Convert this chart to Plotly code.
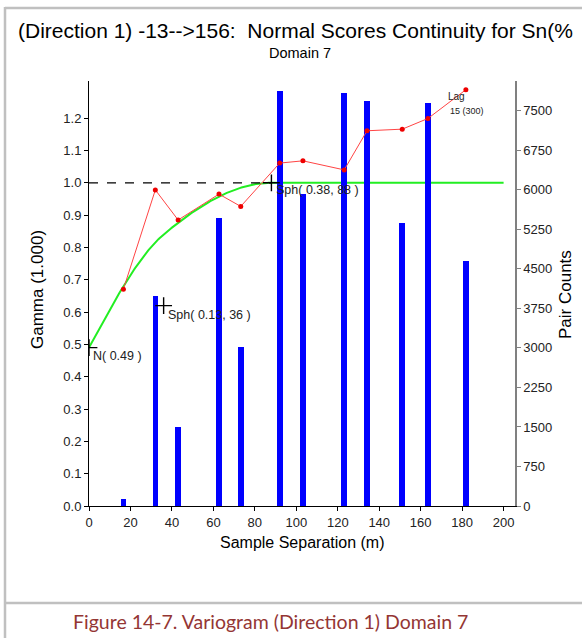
import numpy as np
import plotly.graph_objects as go

# ---------------- data ----------------
lag_dist = [16.6, 32.0, 43.0, 62.7, 73.2, 92.0, 103.2, 123.1, 134.1, 151.1, 163.5, 181.8]
gamma_exp = [0.671, 0.978, 0.885, 0.965, 0.927, 1.061, 1.068, 1.040, 1.161, 1.166, 1.199, 1.288]
pair_counts = [125, 3980, 1490, 5470, 3020, 7880, 5920, 7830, 7680, 5370, 7640, 4650]

nugget = 0.49
sph_sills = [0.13, 0.38]
sph_ranges = [36, 88]

x_ticks = list(range(0, 201, 20))
gamma_ticks = [round(0.1 * i, 1) for i in range(13)]
count_ticks = list(range(0, 7501, 750))

title_text = "(Direction 1) -13-->156:  Normal Scores Continuity for Sn(%"
subtitle_text = "Domain 7"
caption_text = "Figure 14-7. Variogram (Direction 1) Domain 7"
lag_label = ["Lag", "15 (300)"]

# ---------------- model curve (from the fitted model parameters) ----------------
def spherical_model(h):
    h = np.asarray(h, dtype=float)
    g = np.full_like(h, nugget)
    for c, a in zip(sph_sills, sph_ranges):
        r = np.minimum(h / a, 1.0)
        g += c * (1.5 * r - 0.5 * r ** 3)
    return g

h_model = np.linspace(0, 200, 401)
g_model = spherical_model(h_model)

cross_x = [0] + sph_ranges
cross_y = [nugget, nugget + sph_sills[0], nugget + sum(sph_sills)]
cross_txt = [f"N( {nugget:.2f} )",
             f"Sph( {sph_sills[0]:.2f}, {sph_ranges[0]} )",
             f"Sph( {sph_sills[1]:.2f}, {sph_ranges[1]} )"]

# ---------------- layout geometry ----------------
W, H = 582, 638
L, R, T, B = 89, 67, 81, 132
PW, PH = W - L - R, H - T - B

def px(x):
    return (x - L) / PW

def py(y):
    return (H - B - y) / PH

FONT = "Liberation Sans, Arial, sans-serif"

fig = go.Figure()

# green model
fig.add_trace(go.Scatter(x=h_model, y=g_model, mode="lines",
                         line=dict(color="#22ee22", width=2), xaxis="x", yaxis="y",
                         hoverinfo="skip", showlegend=False))
# sill dashed line
fig.add_trace(go.Scatter(x=[0, sph_ranges[1]], y=[nugget + sum(sph_sills)] * 2, mode="lines",
                         line=dict(color="black", width=1.2, dash="dash"), xaxis="x", yaxis="y",
                         showlegend=False))
# pair count bars
fig.add_trace(go.Bar(x=lag_dist, y=pair_counts, width=2.7, marker=dict(color="#0000ff", line=dict(width=0)),
                     xaxis="x", yaxis="y2", showlegend=False))
# experimental variogram
fig.add_trace(go.Scatter(x=lag_dist, y=gamma_exp, mode="lines+markers",
                         line=dict(color="#ff4444", width=1),
                         marker=dict(color="#ee0000", size=5),
                         xaxis="x", yaxis="y3", showlegend=False))
# model structure crosses
fig.add_trace(go.Scatter(x=cross_x, y=cross_y, mode="markers",
                         marker=dict(symbol="cross-thin", size=12, line=dict(color="black", width=1.4)),
                         xaxis="x", yaxis="y3", showlegend=False))

annotations = []
shifts = [(2, -8), (2.5, -9), (3, -7)]
for cx, cy, t, (dx, dy) in zip(cross_x, cross_y, cross_txt, shifts):
    annotations.append(dict(x=cx, y=cy, xref="x", yref="y", text=t, showarrow=False,
                            xanchor="left", yanchor="middle", xshift=dx, yshift=dy,
                            font=dict(family=FONT, size=12.5, color="#222")))

annotations += [
    dict(x=px(446), y=py(97), xref="paper", yref="paper", text=lag_label[0], showarrow=False,
         xanchor="left", yanchor="middle", font=dict(family=FONT, size=10, color="#222")),
    dict(x=px(448), y=py(111), xref="paper", yref="paper", text=lag_label[1], showarrow=False,
         xanchor="left", yanchor="middle", font=dict(family=FONT, size=9, color="#222")),
    dict(x=px(16), y=py(31), xref="paper", yref="paper", text=title_text, showarrow=False,
         xanchor="left", yanchor="middle", font=dict(family=FONT, size=21, color="black")),
    dict(x=px(300), y=py(53), xref="paper", yref="paper", text=subtitle_text, showarrow=False,
         xanchor="center", yanchor="middle", font=dict(family=FONT, size=14.5, color="black")),
    dict(x=px(302), y=py(542), xref="paper", yref="paper", text="Sample Separation (m)", showarrow=False,
         xanchor="center", yanchor="middle", font=dict(family=FONT, size=16, color="black")),
    dict(x=px(37), y=py(290), xref="paper", yref="paper", text="Gamma (1.000)", showarrow=False,
         textangle=-90, xanchor="center", yanchor="middle", font=dict(family=FONT, size=17, color="black")),
    dict(x=px(565), y=py(295), xref="paper", yref="paper", text="Pair Counts", showarrow=False,
         textangle=-90, xanchor="center", yanchor="middle", font=dict(family=FONT, size=17, color="black")),
    dict(x=px(270), y=py(621), xref="paper", yref="paper", text=caption_text, showarrow=False,
         xanchor="center", yanchor="middle", font=dict(family="Lato, Open Sans, sans-serif", size=19.5, color="#943634")),
]

shapes = [
    dict(type="line", xref="paper", yref="paper", x0=px(5), x1=px(582), y0=py(8), y1=py(8),
         line=dict(color="#c0c0c0", width=2.5)),
    dict(type="line", xref="paper", yref="paper", x0=px(5), x1=px(5), y0=py(7), y1=py(638),
         line=dict(color="#c0c0c0", width=2.5)),
    dict(type="line", xref="paper", yref="paper", x0=px(5), x1=px(582), y0=py(603), y1=py(603),
         line=dict(color="#c0c0c0", width=2.5)),
]

tickfont = dict(family=FONT, size=13, color="#222")
g_max = 1.315
c_max = 8065

fig.update_layout(
    width=W, height=H, margin=dict(l=L, r=R, t=T, b=B, autoexpand=False),
    paper_bgcolor="white", plot_bgcolor="white", showlegend=False, bargap=0,
    xaxis=dict(range=[0, 205.5], tickvals=x_ticks, showline=True, linecolor="black", linewidth=1,
               ticks="outside", ticklen=4, tickcolor="black", showgrid=False, zeroline=False,
               tickfont=tickfont),
    yaxis=dict(range=[0, g_max], tickvals=gamma_ticks, tickformat=".1f", showline=True, linecolor="black",
               linewidth=1, ticks="outside", ticklen=4, tickcolor="black", showgrid=False, zeroline=False,
               tickfont=tickfont),
    yaxis2=dict(range=[0, c_max], tickvals=count_ticks, overlaying="y", side="right", showline=True,
                linecolor="#808080", linewidth=1.5, ticks="outside", ticklen=4, tickcolor="#808080",
                showgrid=False, zeroline=False, tickfont=tickfont),
    yaxis3=dict(range=[0, g_max], overlaying="y", visible=False, showgrid=False, zeroline=False),
    annotations=annotations, shapes=shapes,
)

fig.write_html("out.html")
